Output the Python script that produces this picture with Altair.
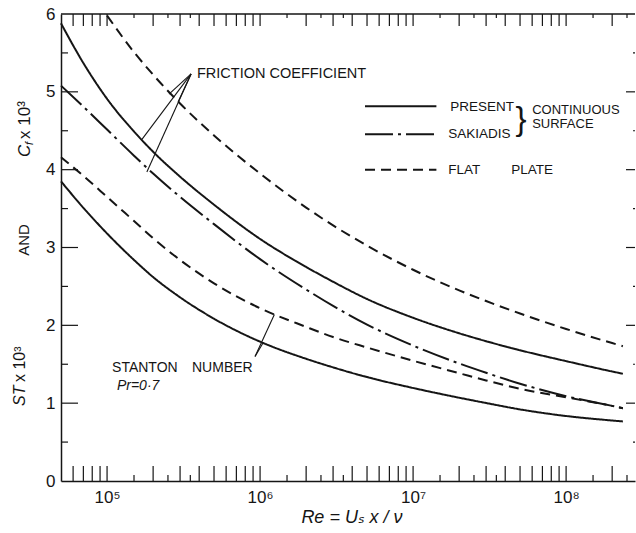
import altair as alt
import pandas as pd

INK = "#151515"
FONT = "Liberation Sans, DejaVu Sans, sans-serif"

# ---- curve data: Re = Us x / nu, values x 10^3 ----
RE = [5e4, 7e4, 1e5, 1.5e5, 2e5, 3e5, 5e5, 1e6, 2e6, 3e6, 5e6,
      1e7, 2e7, 3e7, 5e7, 1e8, 2e8, 2.35e8]
CF_PRESENT = [5.88, 5.37, 4.91, 4.49, 4.23, 3.91, 3.55, 3.11, 2.75, 2.56, 2.338,
              2.097, 1.898, 1.796, 1.68, 1.54, 1.407, 1.378]
CF_SAKIADIS = [5.08, 4.81, 4.515, 4.18, 3.95, 3.65, 3.30, 2.85, 2.46, 2.25, 2.01,
               1.74, 1.51, 1.39, 1.25, 1.09, 0.965, 0.935]
CF_FLAT = [None, None, 5.98, 5.51, 5.22, 4.85, 4.44, 3.95, 3.513, 3.284, 3.024,
           2.714, 2.449, 2.312, 2.152, 1.953, 1.772, 1.732]
ST_FLAT = [4.16, 3.92, 3.65, 3.34, 3.12, 2.84, 2.54, 2.22, 1.98, 1.85, 1.715,
           1.545, 1.385, 1.292, 1.185, 1.075, 0.965, 0.935]
ST_PRESENT = [3.85, 3.51, 3.18, 2.84, 2.62, 2.36, 2.085, 1.79, 1.57, 1.46, 1.335,
              1.195, 1.07, 1.002, 0.92, 0.835, 0.777, 0.765]

# ---- axes ----
X_DOMAIN = [5e4, 2.82e8]
Y_DOMAIN = [0, 6]
X_LABELS = [1e5, 1e6, 1e7, 1e8]
X_LABEL_TEXT = ["10\u2075", "10\u2076", "10\u2077", "10\u2078"]
Y_LABELS = [0, 1, 2, 3, 4, 5, 6]
DECADES = [1e4, 1e5, 1e6, 1e7, 1e8]
MULT_LONG = [1, 2, 3, 4, 5, 6, 7, 8, 9]
MULT_SHORT = [1.5, 2.5, 3.5]
Y_MAJOR = [1, 2, 3, 4, 5]
Y_MINOR = [0.5, 1.5, 2.5, 3.5, 4.5, 5.5]

W, H = 574, 467

xs = alt.Scale(type="log", domain=X_DOMAIN, nice=False)
ys = alt.Scale(domain=Y_DOMAIN, nice=False)

SOLID = [1, 0]
DASHED = [10, 6]
DASHDOT = [28, 5, 3, 5]

label_expr = " : ".join(
    f"datum.value == {v:g} ? '{t}'" for v, t in zip(X_LABELS, X_LABEL_TEXT)
) + " : ''"

x_axis = alt.Axis(values=X_LABELS, labelExpr=label_expr, ticks=False, tickSize=0,
                  grid=False, domainColor=INK, domainWidth=1.5, labelFont=FONT,
                  labelFontSize=17, labelColor=INK, labelPadding=8, title=None,
                  labelFlush=False)
y_axis = alt.Axis(values=Y_LABELS, format="d", ticks=False, tickSize=0, grid=False,
                  domainColor=INK, domainWidth=1.5, labelFont=FONT, labelFontSize=17,
                  labelColor=INK, labelPadding=6, title=None)


def X(field):
    return alt.X(field, type="quantitative", scale=xs, axis=x_axis)


def Y(field):
    return alt.Y(field, type="quantitative", scale=ys, axis=y_axis)


def series_frame(values):
    rows = [(r, v) for r, v in zip(RE, values) if v is not None]
    return pd.DataFrame(rows, columns=["Re", "value"])


def curve(values, dash):
    return alt.Chart(series_frame(values)).mark_line(
        color=INK, strokeWidth=2, strokeDash=dash, interpolate="monotone"
    ).encode(x=X("Re"), y=Y("value"))


layers = [
    curve(CF_PRESENT, SOLID),
    curve(CF_SAKIADIS, DASHDOT),
    curve(CF_FLAT, DASHED),
    curve(ST_FLAT, DASHED),
    curve(ST_PRESENT, SOLID),
]

# ---- inward tick marks on the frame ----
x_long = [m * d for d in DECADES for m in MULT_LONG if X_DOMAIN[0] < m * d < X_DOMAIN[1]]
x_short = [m * d for d in DECADES for m in MULT_SHORT if X_DOMAIN[0] < m * d < X_DOMAIN[1]]


def xticks(vals, y0, y1):
    return alt.Chart(pd.DataFrame({"Re": vals})).mark_rule(color=INK, strokeWidth=1.2).encode(
        x=X("Re"), y=alt.value(y0), y2=alt.value(y1))


def yticks(vals, x0, x1):
    return alt.Chart(pd.DataFrame({"v": vals})).mark_rule(color=INK, strokeWidth=1.2).encode(
        y=Y("v"), x=alt.value(x0), x2=alt.value(x1))


layers += [
    xticks(x_long, H, H - 15), xticks(x_short, H, H - 6),
    xticks(x_long, 0, 12), xticks(x_short, 0, 4),
    yticks(Y_MAJOR, 0, 17), yticks(Y_MINOR, 0, 7),
    yticks(Y_MAJOR, W - 9, W), yticks(Y_MINOR, W - 2, W),
    alt.Chart(pd.DataFrame({"a": [0]})).mark_rule(color=INK, strokeWidth=1.5).encode(
        x=alt.value(0), x2=alt.value(W), y=alt.value(0)),
]

# ---- leader lines to the curve groups ----
LEADERS = pd.DataFrame({
    "x":  [3.54e5, 3.54e5, 3.54e5, 3.54e5, 9.27e5, 9.27e5],
    "y":  [5.23, 5.23, 5.23, 5.23, 1.60, 1.60],
    "x2": [2.54e5, 2.91e5, 1.69e5, 1.82e5, 1.24e6, 1.05e6],
    "y2": [4.97, 4.87, 4.39, 3.97, 2.14, 1.78],
})
layers.append(
    alt.Chart(LEADERS).mark_rule(color=INK, strokeWidth=1.1).encode(
        x=X("x"), y=Y("y"), x2="x2:Q", y2="y2:Q")
)

# ---- legend samples ----
LEGEND_X = [4.85e6, 1.42e7]
LEGEND_Y = [4.815, 4.455, 4.0]
for yy, dash in zip(LEGEND_Y, [SOLID, DASHDOT, DASHED]):
    layers.append(
        alt.Chart(pd.DataFrame({"x": [LEGEND_X[0]], "x2": [LEGEND_X[1]], "y": [yy]}))
        .mark_rule(color=INK, strokeWidth=2, strokeDash=dash)
        .encode(x=X("x"), x2="x2:Q", y=Y("y"))
    )


def note(text, x, y, size=14, align="left", style="normal"):
    return alt.Chart(pd.DataFrame({"x": [x], "y": [y], "t": [text]})).mark_text(
        font=FONT, fontSize=size, fontStyle=style, color=INK, align=align, baseline="middle"
    ).encode(x=X("x"), y=Y("y"), text="t:N")


def side(text, px, py, size=16, align="left", style="normal", angle=270):
    return alt.Chart(pd.DataFrame({"t": [text]})).mark_text(
        font=FONT, fontSize=size, fontStyle=style, color=INK, align=align,
        baseline="middle", angle=angle
    ).encode(x=alt.value(px), y=alt.value(py), text="t:N")


layers += [
    note("FRICTION COEFFICIENT", 3.87e5, 5.23, 14.5),
    note("STANTON", 1.078e5, 1.455, 14),
    note("NUMBER", 3.59e5, 1.455, 14),
    note("Pr=0\u00b77", 1.16e5, 1.22, 14, style="italic"),
    note("PRESENT", 1.75e7, 4.81, 13.5),
    note("SAKIADIS", 1.70e7, 4.455, 13.5),
    note("}", 5.08e7, 4.64, 33, align="center"),
    note("CONTINUOUS", 6.0e7, 4.765, 13),
    note("SURFACE", 6.0e7, 4.585, 13),
    note("FLAT", 1.70e7, 4.0, 13.5),
    note("PLATE", 4.38e7, 4.0, 13.5),
    # vertical axis title pieces
    side("C", -36, 143, 17, style="italic"),
    side("f", -31, 131, 11, style="italic"),
    side("x 10\u00b3", -36, 125, 17),
    side("AND", -37, 226, 15, align="center"),
    side("ST", -41, 392, 16, style="italic"),
    side("x 10\u00b3", -41, 368, 16),
    # horizontal axis title
    side("Re = U\u209b x / \u03bd", 291, 504, 18, align="center", style="italic", angle=0),
]

chart = alt.layer(*layers).properties(
    width=W, height=H,
    padding={"left": 61, "top": 14, "right": 1, "bottom": 52},
    autosize=alt.AutoSizeParams(type="none"),
    background="white",
).configure_view(stroke=None)

chart.save("out.html", embed_options={"renderer": "svg", "actions": False})
